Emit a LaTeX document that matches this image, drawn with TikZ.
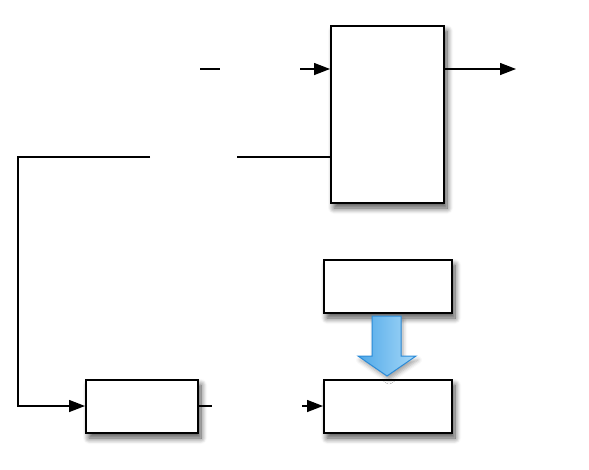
\documentclass[tikz,border=0pt]{standalone}
\usetikzlibrary{arrows.meta,shadows.blur}
\definecolor{arrowdark}{HTML}{4FA8E8}
\definecolor{arrowlight}{HTML}{A6D8F8}
\definecolor{arrowedge}{HTML}{2B8BD8}
\tikzset{
  box/.style={draw=black, line width=2pt, fill=white, inner sep=0pt,
    blur shadow={shadow xshift=3pt, shadow yshift=-5pt, shadow blur radius=6pt, shadow blur steps=10, shadow opacity=70}},
  conn/.style={line width=1.4pt, draw=black},
  arr/.style={conn, -{Triangle[length=16pt,width=12pt]}}
}
\begin{document}
\begin{tikzpicture}[x=1pt,y=-1pt]
\useasboundingbox (0,0) rectangle (589,469);
% boxes (anchor at NW corners)
\node[box, minimum width=113pt, minimum height=177pt, anchor=north west] (big) at (330,25) {};
\node[box, minimum width=128pt, minimum height=53pt, anchor=north west] (mid) at (323,259) {};
\node[box, minimum width=128pt, minimum height=53pt, anchor=north west] (br) at (323,379) {};
\node[box, minimum width=112pt, minimum height=53pt, anchor=north west] (bl) at (85,379) {};
% free ends
\coordinate (a1) at (200,69);
\coordinate (a2) at (220,69);
\coordinate (a3) at (300,69);
\coordinate (out) at (516,69);
\coordinate (b1) at (237,157);
\coordinate (c1) at (150,157);
\coordinate (corner1) at (18,157);
\coordinate (corner2) at (18,406);
\coordinate (d1) at (212,406);
\coordinate (d2) at (302,406);
% connectors
\draw[conn] (a1) -- (a2);
\draw[arr] (a3) -- (big.west |- a3);
\draw[arr] (big.east |- out) -- (out);
\draw[conn] (b1) -- (big.west |- b1);
\draw[arr] (c1) -- (corner1) -- (corner2) -- (bl.west |- corner2);
\draw[conn] (bl.east |- d1) -- (d1);
\draw[arr] (d2) -- (br.west |- d2);
% blue block arrow
\path[left color=arrowdark, right color=arrowlight, draw=arrowedge, line width=1pt,
      blur shadow={shadow xshift=2pt, shadow yshift=-4pt, shadow blur radius=4pt, shadow opacity=35}]
  (372,316) -- (401,316) -- (401,356) -- (416,356) -- (387,376) -- (358,356) -- (372,356) -- cycle;
\end{tikzpicture}
\end{document}
